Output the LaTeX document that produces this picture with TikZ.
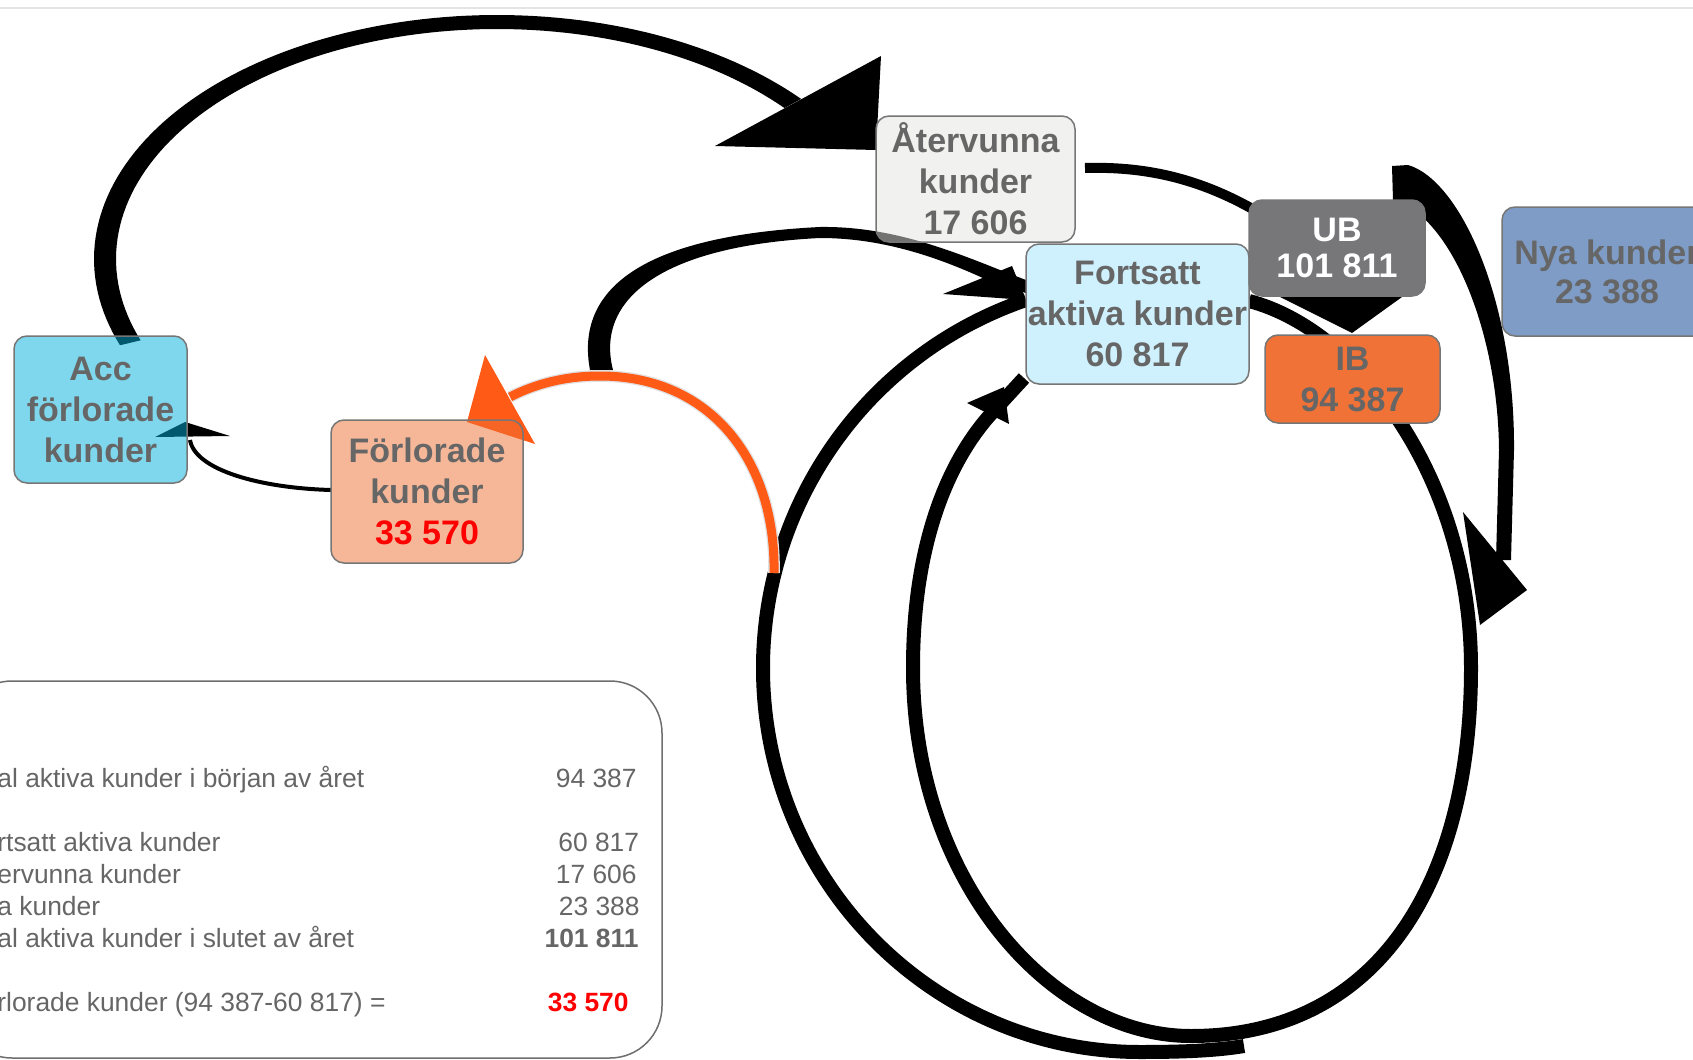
\documentclass[tikz,border=0pt]{standalone}
\usepackage{fontspec}
\setmainfont{Liberation Sans}
\definecolor{accfill}{RGB}{0,176,220}
\definecolor{forlfill}{RGB}{239,113,53}
\definecolor{aterfill}{RGB}{229,229,225}
\definecolor{fortsfill}{RGB}{207,240,253}
\definecolor{ubfill}{RGB}{119,119,122}
\definecolor{ibfill}{RGB}{241,114,54}
\definecolor{nyafill}{RGB}{126,156,198}
\definecolor{boxline}{RGB}{118,118,118}
\definecolor{labelgray}{RGB}{102,102,102}
\definecolor{lossred}{RGB}{255,0,0}
\definecolor{flowred}{RGB}{255,90,22}
\definecolor{sumline}{RGB}{110,110,110}
\definecolor{toprule}{RGB}{228,228,228}
\begin{document}
\begin{tikzpicture}[x=0.5pt,y=-0.5pt,
  box/.style={rectangle, rounded corners=6.5pt, draw=boxline, line width=0.75pt,
    inner sep=0pt, align=center, text=labelgray, text opacity=1,
    font=\bfseries\fontsize{17}{20.5}\selectfont},
  flow/.style={draw=black, line cap=butt},
  head/.style={fill=black},
  sumtext/.style={inner sep=0pt, text=labelgray, font=\fontsize{13.2}{15}\selectfont},
  sumnum/.style={inner sep=0pt, text=labelgray, font=\fontsize{13.2}{15}\selectfont, anchor=base east}]
\useasboundingbox (0,0) rectangle (1693,1060);
\fill[white] (0,0) rectangle (1693,1060);
% top rule
\coordinate (tlA) at (0,8);
\coordinate (tlB) at (1693,8);
\draw[toprule, line width=1pt] (tlA) -- (tlB);

% ---------- connectors ----------
% A: Acc -> Aatervunna (tapered arc)
\fill[head] plot[domain=159.3:319,samples=100] ({497+403*cos(\x)},{259+244*sin(\x)})
  -- plot[domain=319:159.3,samples=100] ({497+381*cos(\x)},{259+230*sin(\x)}) -- cycle;
\fill[head] (715,146) -- (881,56) -- (876,150) -- cycle;

% D: loop into Fortsatt (tapered)
\fill[head] (590,370) .. controls (575,290) and (640,236) .. (820,227)
  .. controls (890,226) and (950,250) .. (1005,272) -- (1026,280) -- (1026,293)
  -- (1000,286) .. controls (950,262) and (890,238) .. (820,238)
  .. controls (660,246) and (595,300) .. (613,370) -- cycle;
\fill[head] (943,294) -- (1012,266) -- (1026,300) -- cycle;

% E: outer loop
\coordinate (eS) at (1026,300);
\coordinate (eE) at (1244,1046);
\draw[flow, line width=7pt] (eS) .. controls (868,354) and (763,502) .. (763,668)
  .. controls (763,880) and (932,1052) .. (1140,1052)
  .. controls (1190,1052) and (1220,1050) .. (eE);

% F2: inner loop
\coordinate (fS) at (1249,301);
\coordinate (fE) at (1024,378);
\draw[flow, line width=7pt] (fS) .. controls (1360,330) and (1471,480) .. (1471,668)
  .. controls (1471,880) and (1380,1036) .. (1191,1036)
  .. controls (1050,1036) and (913,880) .. (913,668)
  .. controls (913,540) and (950,460) .. (990,415) -- (fE);
\fill[head] (967,403) -- (1009,424) -- (1004,387) -- cycle;

% G: Aatervunna -> UB
\coordinate (gS) at (1085,168);
\coordinate (gE) at (1300,240);
\draw[flow, line width=5pt] (gS) .. controls (1155,166) and (1222,182) .. (gE);
\fill[head] (1280,297) -- (1402,297) -- (1352,333) -- cycle;

% H: right tapered arrow
\fill[head] (1392,166) -- (1408,165) .. controls (1460,180) and (1515,300) .. (1514,450)
  -- (1511,560) -- (1496,560) -- (1499,450) .. controls (1498,330) and (1450,215) .. (1393,200) -- cycle;
\fill[head] (1463,512) -- (1527,590) -- (1480,625) -- cycle;

% B: Forlorade -> Acc
\coordinate (bS) at (331,490);
\coordinate (bE) at (190,440);
\draw[flow, line width=2pt] (bS) .. controls (260,488) and (195,470) .. (bE);
\fill[head] (155,437) -- (185,422) -- (230,436) -- cycle;

% C: orange to Forlorade
\coordinate (cS) at (774,573);
\coordinate (cE) at (510,397);
\draw[draw=flowred, line width=4.5pt, preaction={draw=black!12, line width=5.8pt}]
  (cS) .. controls (776,460) and (710,376) .. (600,376) .. controls (565,376) and (535,384) .. (cE);
\fill[flowred] (485,355) -- (467,422) -- (535,444) -- cycle;

% ---------- boxes ----------
\node[box, fill=accfill, fill opacity=0.5, minimum width=86.5pt, minimum height=73.5pt]
  (acc) at (100.5,409.5) {Acc\\förlorade\\kunder};
\node[box, fill=forlfill, fill opacity=0.5, minimum width=96pt, minimum height=71.5pt]
  (forl) at (427,491.5) {Förlorade\\kunder\\\textcolor{lossred}{33 570}};
\node[box, fill=aterfill, fill opacity=0.5, minimum width=99.5pt, minimum height=63pt]
  (ater) at (975.5,179) {Återvunna\\kunder\\17 606};
\node[box, fill=fortsfill, minimum width=111.5pt, minimum height=70pt]
  (forts) at (1137.5,314) {Fortsatt\\aktiva kunder\\60 817};
\node[box, fill=ubfill, text=white, font=\bfseries\fontsize{17}{18}\selectfont,
  minimum width=88pt, minimum height=48pt] (ub) at (1337,248) {UB\\101 811};
\node[box, fill=ibfill, minimum width=87.5pt, minimum height=44pt]
  (ib) at (1352.5,379) {IB\\94 387};
\node[box, fill=nyafill, font=\bfseries\fontsize{17}{19.5}\selectfont,
  minimum width=105pt, minimum height=64.5pt] (nya) at (1607,271.5) {Nya kunder\\23 388};

% ---------- summary ----------
\node[draw=sumline, line width=0.75pt, rounded corners=26pt, minimum width=351pt,
  minimum height=188.5pt, inner sep=0pt] (sum) at (311,869.5) {};
\node[sumtext, anchor=base west] (s1) at (-3,787) {al aktiva kunder i början av året};
\node[sumtext, anchor=base west] (s2) at (-3,851) {rtsatt aktiva kunder};
\node[sumtext, anchor=base west] (s3) at (-3,883) {ervunna kunder};
\node[sumtext, anchor=base west] (s4) at (-3,915) {a kunder};
\node[sumtext, anchor=base west] (s5) at (-3,947) {al aktiva kunder i slutet av året};
\node[sumtext, anchor=base west] (s6) at (-3,1011) {rlorade kunder (94 387-60 817) =};
\node[sumnum] (n1) at (637,787) {94 387};
\node[sumnum] (n2) at (639.5,851) {60 817};
\node[sumnum] (n3) at (637,883) {17 606};
\node[sumnum] (n4) at (640,915) {23 388};
\node[sumnum, font=\bfseries\fontsize{13.2}{15}\selectfont] (n5) at (639,947) {101 811};
\node[sumnum, text=lossred, font=\bfseries\fontsize{13.2}{15}\selectfont] (n6) at (629,1011) {33 570};
\end{tikzpicture}
\end{document}
